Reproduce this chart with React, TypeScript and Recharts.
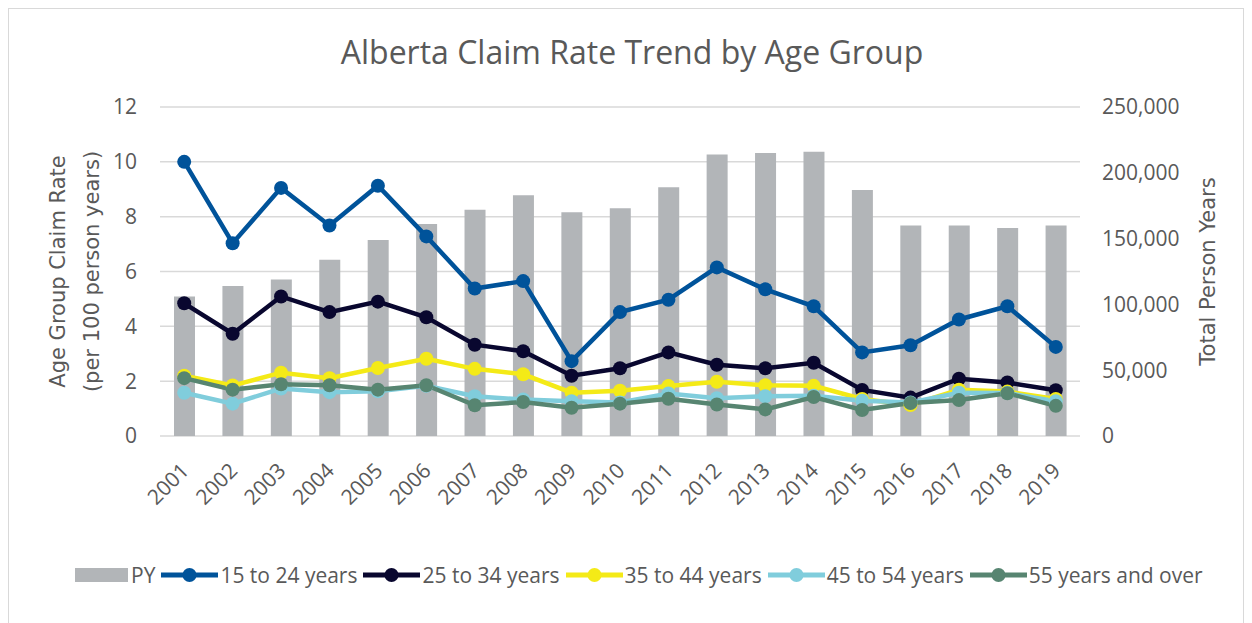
import React from 'react';
import { ComposedChart, Bar, Line, XAxis, YAxis, CartesianGrid } from 'recharts';

const years = ['2001','2002','2003','2004','2005','2006','2007','2008','2009','2010','2011','2012','2013','2014','2015','2016','2017','2018','2019'];
const py = [106000, 114000, 119000, 134000, 149000, 161000, 172000, 183000, 170000, 173000, 189000, 214000, 215000, 216000, 187000, 160000, 160000, 158000, 160000];
const age15to24 = [10.0, 7.03, 9.05, 7.68, 9.13, 7.28, 5.38, 5.65, 2.73, 4.52, 4.97, 6.15, 5.35, 4.73, 3.05, 3.31, 4.25, 4.73, 3.25];
const age25to34 = [4.84, 3.73, 5.09, 4.52, 4.9, 4.33, 3.33, 3.09, 2.2, 2.47, 3.05, 2.6, 2.47, 2.67, 1.68, 1.4, 2.09, 1.95, 1.67];
const age35to44 = [2.2, 1.84, 2.31, 2.11, 2.48, 2.82, 2.45, 2.25, 1.58, 1.65, 1.82, 1.98, 1.85, 1.83, 1.35, 1.13, 1.69, 1.62, 1.35];
const age45to54 = [1.58, 1.18, 1.73, 1.6, 1.63, 1.83, 1.45, 1.33, 1.27, 1.22, 1.55, 1.38, 1.45, 1.47, 1.29, 1.22, 1.58, 1.57, 1.27];
const age55plus = [2.11, 1.69, 1.89, 1.85, 1.69, 1.85, 1.12, 1.24, 1.03, 1.18, 1.36, 1.15, 0.97, 1.42, 0.95, 1.2, 1.31, 1.56, 1.1];

const leftTicks = [0, 2, 4, 6, 8, 10, 12];
const rightTicks = [0, 50000, 100000, 150000, 200000, 250000];

const TITLE = 'Alberta Claim Rate Trend by Age Group';
const LEFT_TITLE = ['Age Group Claim Rate', '(per 100 person years)'];
const RIGHT_TITLE = 'Total Person Years';

const series = [
  { key: 'a15', name: '15 to 24 years', color: '#00539a', values: age15to24 },
  { key: 'a25', name: '25 to 34 years', color: '#09072f', values: age25to34 },
  { key: 'a35', name: '35 to 44 years', color: '#f4ea17', values: age35to44 },
  { key: 'a45', name: '45 to 54 years', color: '#80cddc', values: age45to54 },
  { key: 'a55', name: '55 years and over', color: '#578571', values: age55plus },
];

const BAR_COLOR = '#b2b5b8';
const TEXT = '#595959';
const FONT = '"Open Sans", sans-serif';
const TITLE_FONT = '"DejaVu Sans", sans-serif';

const data = years.map((y, i) => {
  const row: Record<string, any> = { year: y, py: py[i] };
  series.forEach(s => { row[s.key] = s.values[i]; });
  return row;
});

const XTick = (props: any) => {
  const { x, y, payload } = props;
  return (
    <g transform={`translate(${x + 6},${y + 36})`}>
      <text x={0} y={0} textAnchor="end" transform="rotate(-45)" fill={TEXT} fontSize={21} fontFamily={FONT}>
        {payload.value}
      </text>
    </g>
  );
};

const LeftLabel = (props: any) => {
  const vb = props.viewBox || {};
  const cy = vb.y + vb.height / 2;
  return (
    <g>
      <text x={49} y={cy} transform={`rotate(-90, 49, ${cy})`} textAnchor="middle" dominantBaseline="central" fill={TEXT} fontSize={21} fontFamily={TITLE_FONT}>{LEFT_TITLE[0]}</text>
      <text x={83} y={cy} transform={`rotate(-90, 83, ${cy})`} textAnchor="middle" dominantBaseline="central" fill={TEXT} fontSize={21} fontFamily={TITLE_FONT}>{LEFT_TITLE[1]}</text>
    </g>
  );
};

const RightLabel = (props: any) => {
  const vb = props.viewBox || {};
  const cy = vb.y + vb.height / 2;
  const x = 1199;
  return (
    <text x={x} y={cy} transform={`rotate(-90, ${x}, ${cy})`} textAnchor="middle" dominantBaseline="central" fill={TEXT} fontSize={21} fontFamily={TITLE_FONT}>{RIGHT_TITLE}</text>
  );
};

const LineIcon = ({ color }: { color: string }) => (
  <svg width={57} height={20} style={{ display: 'block' }}>
    <line x1={0} y1={10} x2={57} y2={10} stroke={color} strokeWidth={5} />
    <circle cx={28.5} cy={10} r={7} fill={color} />
  </svg>
);

export default function App() {
  return (
    <div style={{ position: 'relative', width: 1236, height: 616, border: '1px solid #d9d9d9', boxSizing: 'border-box', background: '#fff' }}>
      <div style={{ position: 'absolute', left: 623, top: 25, transform: 'translateX(-50%)', whiteSpace: 'nowrap', fontFamily: FONT, fontSize: 32, lineHeight: '36px', color: TEXT }}>
        {TITLE}
      </div>
      <ComposedChart width={1234} height={500} data={data} margin={{ top: 98, right: 0, left: 0, bottom: 0 }}>
        <CartesianGrid vertical={false} stroke="#d9d9d9" strokeWidth={1.5} yAxisId="left" />
        <XAxis dataKey="year" height={73} tickLine={false} axisLine={false} tickSize={0} tickMargin={0} tick={<XTick />} interval={0} />
        <YAxis yAxisId="left" orientation="left" width={151} domain={[0, 12]} ticks={leftTicks} axisLine={false} tickLine={false} tickSize={0} tickMargin={23}
          tick={{ fill: TEXT, fontSize: 21, fontFamily: FONT }} label={<LeftLabel />} />
        <YAxis yAxisId="right" orientation="right" width={163} domain={[0, 250000]} ticks={rightTicks} axisLine={false} tickLine={false} tickSize={0} tickMargin={22}
          tick={{ fill: TEXT, fontSize: 21, fontFamily: FONT, textAnchor: 'start' }} tickFormatter={(v: number) => v.toLocaleString('en-US')} label={<RightLabel />} />
        <Bar yAxisId="right" dataKey="py" name="PY" fill={BAR_COLOR} barSize={21} isAnimationActive={false} />
        {series.map(s => (
          <Line key={s.key} yAxisId="left" type="linear" dataKey={s.key} name={s.name} stroke={s.color} strokeWidth={4.5}
            dot={{ r: 7, fill: s.color, stroke: 'none', strokeWidth: 0 }} activeDot={false} isAnimationActive={false} />
        ))}
      </ComposedChart>
      <div style={{ position: 'absolute', left: 66, top: 553, height: 26, display: 'flex', alignItems: 'center', fontFamily: FONT, fontSize: 21, color: TEXT, whiteSpace: 'nowrap' }}>
        <div style={{ display: 'flex', alignItems: 'center', marginRight: 6 }}>
          <div style={{ width: 53, height: 14, background: BAR_COLOR, marginRight: 3 }} />
          <span>PY</span>
        </div>
        {series.map(s => (
          <div key={s.key} style={{ display: 'flex', alignItems: 'center', marginRight: 6 }}>
            <LineIcon color={s.color} />
            <span style={{ marginLeft: 2 }}>{s.name}</span>
          </div>
        ))}
      </div>
    </div>
  );
}
